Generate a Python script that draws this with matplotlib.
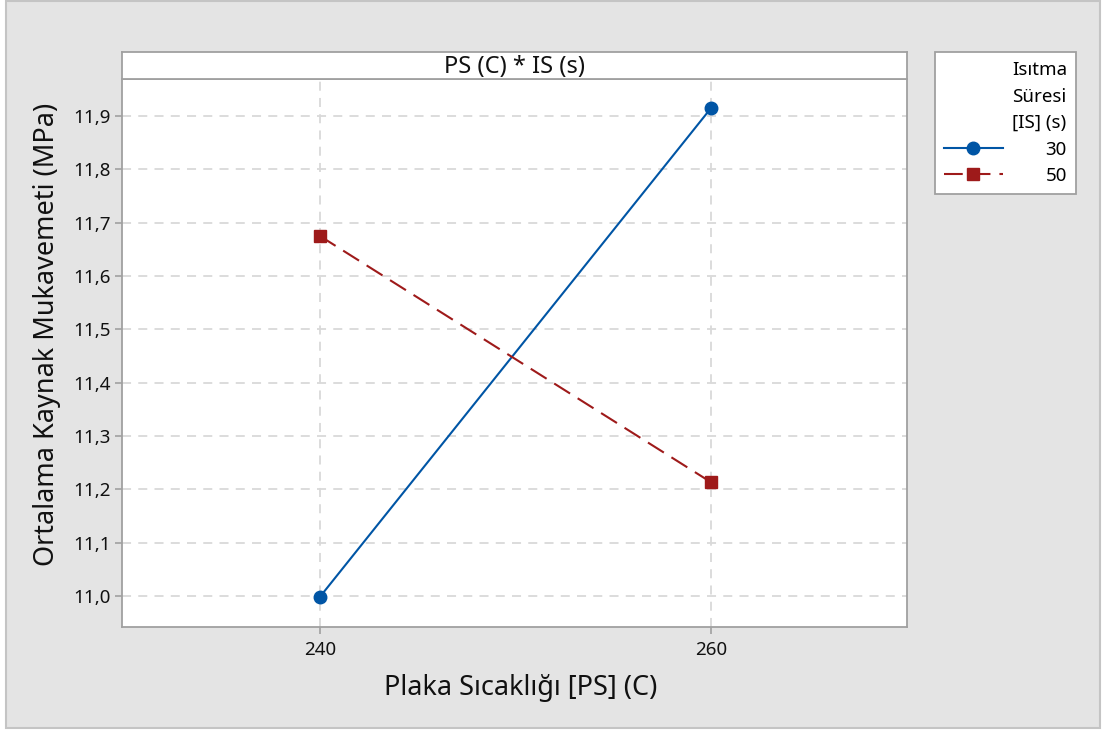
import matplotlib
matplotlib.use("Agg")
import matplotlib.pyplot as plt
from matplotlib.patches import Rectangle
from matplotlib.ticker import FuncFormatter

plt.rcParams['font.family'] = ['Noto Sans', 'DejaVu Sans']

# data
ps_levels = [240, 260]
is_levels = ['30', '50']
means_30 = [10.998, 11.915]
means_50 = [11.675, 11.213]
y_ticks = [11.0, 11.1, 11.2, 11.3, 11.4, 11.5, 11.6, 11.7, 11.8, 11.9]

W, H = 1103, 731
fig = plt.figure(figsize=(W / 100, H / 100), dpi=100, facecolor='white')

def fx(px):
    return px / W

def fy(py):
    return 1 - py / H

# outer gray panel
fig.patches.append(Rectangle((fx(6), fy(728)), fx(1100) - fx(6), fy(1) - fy(728),
                             transform=fig.transFigure, facecolor='#e4e4e4',
                             edgecolor='#c4c4c4', linewidth=1.5, zorder=-5))

ax_l, ax_r, ax_t, ax_b = 122, 907, 79, 627
ax = fig.add_axes([fx(ax_l), fy(ax_b), fx(ax_r) - fx(ax_l), fy(ax_t) - fy(ax_b)])
ax.set_facecolor('white')

blue = '#0055A5'
red = '#9E1A1A'
l1, = ax.plot(ps_levels, means_30, color=blue, lw=1.5, marker='o', ms=9,
              label=is_levels[0], zorder=3)
l2, = ax.plot(ps_levels, means_50, color=red, lw=1.5, ls=(0, (9, 4.3)), marker='s', ms=9,
              label=is_levels[1], zorder=3)

ax.set_xlim(229.9, 270)
ax.set_ylim(10.942, 11.969)
ax.set_xticks(ps_levels)
ax.set_yticks(y_ticks)
ax.yaxis.set_major_formatter(FuncFormatter(lambda v, p: f"{v:.1f}".replace('.', ',')))
ax.grid(True, color='#d9d9d9', lw=1.3, ls=(0, (5, 4)))
ax.set_axisbelow(True)
for s in ax.spines.values():
    s.set_color('#a0a0a0')
    s.set_linewidth(1.3)
ax.tick_params(axis='both', colors='#a0a0a0', labelcolor='#111111', labelsize=13.5,
               length=5, width=1.2, direction='out')
ax.tick_params(axis='x', pad=5)
ax.tick_params(axis='y', pad=3)

ax.set_xlabel('Plaka Sıcaklığı [PS] (C)', fontsize=19.5, labelpad=11, color='#111111')
ax.set_ylabel('Ortalama Kaynak Mukavemeti (MPa)', fontsize=19.5, labelpad=9, color='#111111')
ax.xaxis.set_label_coords(0.508, -0.085)
ax.yaxis.label.set_y(0.533)

# strip title
st = fig.add_axes([fx(ax_l), fy(ax_t), fx(ax_r) - fx(ax_l), fy(52) - fy(ax_t)])
st.set_facecolor('white')
st.set_xticks([])
st.set_yticks([])
for s in st.spines.values():
    s.set_color('#a0a0a0')
    s.set_linewidth(1.3)
st.text(0.5, 0.45, 'PS (C) * IS (s)', ha='center', va='center', fontsize=17,
        transform=st.transAxes, color='#111111')

# legend
leg = fig.legend(handles=[l1, l2], title='Isıtma\nSüresi\n[IS] (s)',
                 loc='upper left', bbox_to_anchor=(fx(935), fy(52)),
                 fontsize=13.5, title_fontsize=13.5, alignment='right',
                 handlelength=3.1, handletextpad=2.3, borderpad=0.5,
                 labelspacing=0.45, frameon=True, fancybox=False,
                 edgecolor='#a0a0a0', framealpha=1, borderaxespad=0)
leg.get_frame().set_linewidth(1.3)
leg.get_title().set_linespacing(1.6)
for t in leg.get_texts():
    t.set_ha('right')

fig.savefig('out.png', dpi=100, facecolor='white')
